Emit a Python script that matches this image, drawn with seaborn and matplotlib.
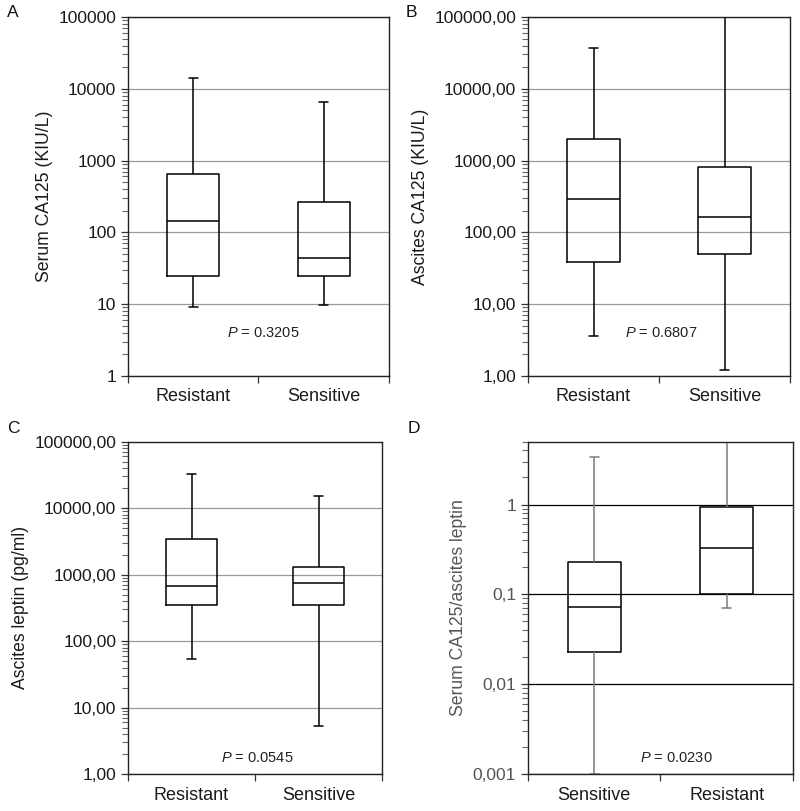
import pandas as pd
import matplotlib
matplotlib.use('Agg')
import matplotlib.pyplot as plt
import matplotlib.ticker as mticker
import seaborn as sns

# five-number summaries: min, q1, median, q3, max
groups = ['Resistant', 'Sensitive']
serum_res = [9.2, 25, 144, 645, 14300]
serum_sen = [9.6, 25, 44, 265, 6500]
asc_res = [3.6, 39, 292, 1990, 37000]
asc_sen = [1.2, 50, 164, 822, 100000]
lep_res = [53, 350, 684, 3400, 32600]
lep_sen = [5.2, 350, 750, 1320, 15400]
ratio_groups = ['Sensitive', 'Resistant']
ratio_sen = [0.001, 0.023, 0.073, 0.229, 3.35]
ratio_res = [0.0705, 0.102, 0.33, 0.93, 5.0]

p_values = ['0.3205', '0.6807', '0.0545', '0.0230']

sns.set_style('ticks')
plt.rcParams['font.family'] = ['Liberation Sans', 'DejaVu Sans']
plt.rcParams['mathtext.fontset'] = 'custom'
plt.rcParams['mathtext.it'] = 'Liberation Sans:italic'
plt.rcParams['mathtext.rm'] = 'Liberation Sans'

fig = plt.figure(figsize=(8, 8.11), dpi=100)
axA = fig.add_axes([0.16, 0.5364, 0.326, 0.4427])
axB = fig.add_axes([0.66, 0.5364, 0.3275, 0.4427])
axC = fig.add_axes([0.16, 0.0456, 0.3175, 0.4097])
axD = fig.add_axes([0.66, 0.0456, 0.331, 0.4097])


def long_df(names, a, b):
    return pd.DataFrame({'group': [names[0]] * len(a) + [names[1]] * len(b),
                         'value': a + b})


def draw(ax, df, order, ticks, labels, ylim, ylabel, ptxt, py,
         grid_col='#9a9a9a', whisk_col='black', lab_col='#1a1a1a', px=0.51):
    ax.yaxis.grid(True, which='major', color=grid_col, lw=0.9, zorder=0)
    ax.set_axisbelow(True)
    sns.boxplot(data=df, x='group', y='value', order=order, ax=ax,
                log_scale=True, whis=(0, 100), fill=False, width=0.4,
                color='black', linewidth=1.1, capwidths=0.07,
                whiskerprops={'color': whisk_col},
                capprops={'color': whisk_col})
    ax.set_ylim(*ylim)
    ax.set_xlim(-0.5, 1.5)
    ax.set_yticks(ticks)
    ax.set_yticklabels(labels)
    ax.yaxis.set_minor_locator(mticker.LogLocator(base=10, subs=range(2, 10),
                                                  numticks=50))
    ax.yaxis.set_minor_formatter(mticker.NullFormatter())
    ax.tick_params(axis='y', which='major', length=5, width=0.9,
                   labelsize=12.5, labelcolor=lab_col, color='#333')
    ax.tick_params(axis='y', which='minor', left=True, length=4, width=0.8,
                   color='#666')
    ax.set_xticks([0, 1])
    ax.set_xticklabels(order)
    ax.set_xticks([-0.5, 0.5, 1.5], minor=True)
    ax.tick_params(axis='x', which='major', length=0, pad=9, labelsize=13,
                   labelcolor='#1a1a1a')
    ax.tick_params(axis='x', which='minor', bottom=True, length=5, width=0.9,
                   color='#333')
    ax.set_xlabel('')
    ax.set_ylabel(ylabel, fontsize=12.7, color=lab_col)
    for s in ax.spines.values():
        s.set_visible(True)
        s.set_color('#222')
        s.set_linewidth(1.0)
    ax.text(px, py, '$P$ = ' + ptxt, transform=ax.transAxes, ha='center',
            va='center', fontsize=10.5, color='#222')


dec = [1, 10, 100, 1000, 10000, 100000]
draw(axA, long_df(groups, serum_res, serum_sen), groups, dec,
     ['1', '10', '100', '1000', '10000', '100000'], (1, 100000),
     'Serum CA125 (KIU/L)', p_values[0], 0.12, px=0.52)
comma = ['1,00', '10,00', '100,00', '1000,00', '10000,00', '100000,00']
draw(axB, long_df(groups, asc_res, asc_sen), groups, dec, comma,
     (1, 100000), 'Ascites CA125 (KIU/L)', p_values[1], 0.12)
draw(axC, long_df(groups, lep_res, lep_sen), groups, dec, comma,
     (1, 100000), 'Ascites leptin (pg/ml)', p_values[2], 0.048)
draw(axD, long_df(ratio_groups, ratio_sen, ratio_res), ratio_groups,
     [0.001, 0.01, 0.1, 1], ['0,001', '0,01', '0,1', '1'], (0.001, 5.0),
     'Serum CA125/ascites leptin', p_values[3], 0.048,
     grid_col='black', whisk_col='#7a7a7a', lab_col='#555555', px=0.56)

for lab, x, y in [('A', 0.009, 0.984), ('B', 0.507, 0.984),
                  ('C', 0.009, 0.472), ('D', 0.509, 0.472)]:
    fig.text(x, y, lab, fontsize=12.5, ha='left', va='center', color='#111')

fig.savefig('out.png', dpi=100)
